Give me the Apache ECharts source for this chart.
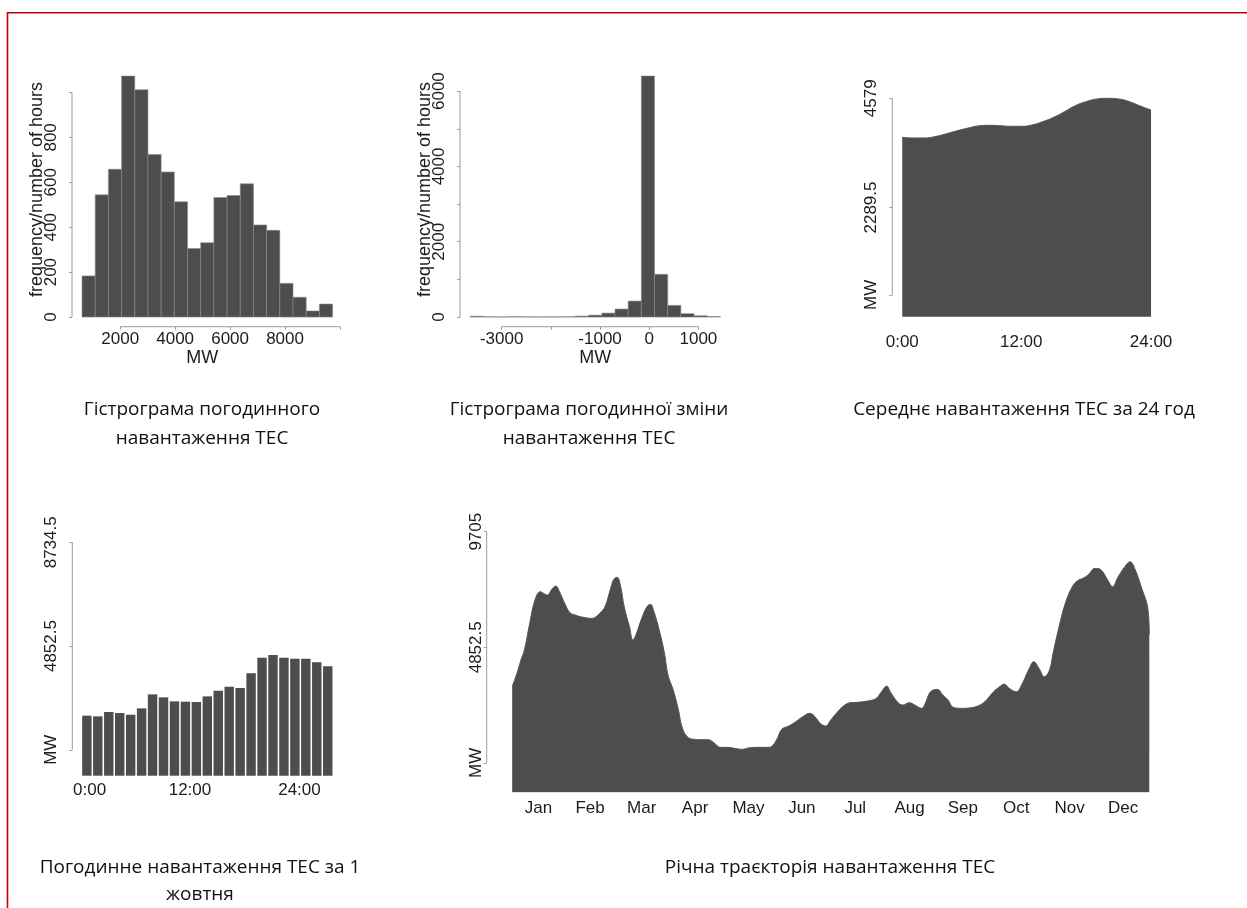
<!DOCTYPE html>
<html>
<head>
<meta charset="utf-8">
<script src="https://cdn.jsdelivr.net/npm/echarts@6/dist/echarts.min.js"></script>
<style>
  html, body { margin: 0; padding: 0; background: #ffffff; }
  #chart { width: 1247px; height: 908px; }
</style>
</head>
<body>
<div id="chart"></div>
<script>
// ---------- data ----------
// Hourly load histogram (bin edges in MW, counts in hours)
const loadBinEdges = [610, 1090, 1570, 2050, 2530, 3010, 3490, 3970, 4450, 4930,
                      5410, 5890, 6370, 6850, 7330, 7810, 8290, 8770, 9250, 9730];
const loadBinCounts = [183, 544, 658, 1073, 1012, 724, 646, 513, 305, 331,
                       532, 541, 593, 410, 386, 150, 88, 27, 58];

// Histogram of hour-to-hour load change
const changeBinEdges = [-3644, -3376, -3108, -2840, -2572, -2304, -2036, -1768, -1500, -1232,
                        -964, -696, -428, -160, 108, 376, 644, 912, 1180, 1448];
const changeBinCounts = [22, 8, 5, 12, 6, 5, 6, 8, 25, 50,
                         105, 213, 425, 6400, 1135, 310, 90, 35, 15];

// Average load by hour of day
const dayHours = [1, 2, 3, 4, 5, 6, 7, 8, 9, 10, 11, 12,
                  13, 14, 15, 16, 17, 18, 19, 20, 21, 22, 23, 24];
const avgHourlyLoad = [3761, 3747, 3747, 3775, 3831, 3894, 3950, 3999, 4013, 4006, 3992, 3992,
                       4020, 4090, 4181, 4299, 4425, 4509, 4565, 4579, 4565, 4509, 4418, 4334];

// Hourly load on 1 October
const oct1Hours = ['1', '2', '3', '4', '5', '6', '7', '8', '9', '10', '11', '12',
                   '13', '14', '15', '16', '17', '18', '19', '20', '21', '22', '23'];
const oct1Load = [2246, 2221, 2383, 2345, 2283, 2520, 3044, 2932, 2782, 2769, 2757, 2969,
                  3181, 3331, 3281, 3830, 4416, 4516, 4416, 4379, 4379, 4242, 4092];

// Yearly load trajectory (day of year, MW)
const yearDays = [1, 4, 6, 8, 11, 14, 17, 19, 21, 24, 26, 28, 31, 34, 37, 40, 43, 46, 48, 51,
                  54, 57, 59, 61, 63, 65, 68, 70, 72, 75, 78, 80, 82, 85, 88, 90, 93, 96, 98, 101,
                  105, 109, 113, 116, 120, 124, 128, 132, 137, 143, 147, 149, 152, 155, 159, 163, 167, 171, 174, 177,
                  180, 183, 187, 191, 194, 198, 205, 209, 212, 215, 217, 221, 224, 228, 231, 235, 237, 240, 244, 247,
                  250, 253, 258, 263, 267, 271, 276, 280, 282, 285, 289, 292, 296, 299, 302, 305, 308, 310, 313, 317,
                  321, 324, 327, 330, 334, 337, 341, 344, 347, 351, 354, 357, 361, 364, 365];
const yearLoad = [3200, 3829, 4319, 4739, 5857, 6837, 7186, 7116, 7046, 7326, 7424, 7186, 6697, 6305, 6207, 6137, 6095, 6067, 6095, 6277,
                  6557, 7256, 7704, 7788, 7396, 6557, 5717, 5158, 5437, 6067, 6557, 6655, 6347, 5577, 4598, 3689, 3059, 2220, 1520, 1101,
                  989, 975, 975, 863, 653, 653, 611, 569, 639, 653, 653, 681, 961, 1408, 1548, 1730, 1940, 2080, 1940, 1660,
                  1548, 1800, 2150, 2429, 2527, 2541, 2611, 2709, 2988, 3226, 2988, 2569, 2429, 2527, 2429, 2289, 2499, 2988, 3086, 2848,
                  2642, 2331, 2289, 2317, 2387, 2569, 2988, 3226, 3310, 3128, 2988, 3268, 3898, 4248, 3968, 3619, 3898, 4598, 5577, 6697,
                  7396, 7648, 7746, 7886, 8166, 8124, 7704, 7396, 7788, 8236, 8446, 8096, 7256, 6557, 5367];

// ---------- tick definitions ----------
const loadTicksX = [2000, 4000, 6000, 8000, 10000];
const loadLabelsX = [2000, 4000, 6000, 8000];
const loadTicksY = [0, 200, 400, 600, 800, 1000];
const loadLabelsY = [0, 200, 400, 600, 800];

const changeTicksX = [-3000, -2000, -1000, 0, 1000];
const changeLabelsX = [-3000, -1000, 0, 1000];
const changeTicksY = [0, 1000, 2000, 3000, 4000, 5000, 6000];
const changeLabelsY = [0, 2000, 4000, 6000];

const hourTickPos = [1, 12, 24];
const hourTickText = ['0:00', '12:00', '24:00'];

const avgTickPos = [458, 2289.5, 4579];
const avgTickText = ['MW', '2289.5', '4579'];

const oct1TickPos = [970.5, 4852.5, 8734.5];
const oct1TickText = ['MW', '4852.5', '8734.5'];

const yearTickPos = [0, 4852.5, 9705];
const yearTickText = ['MW', '4852.5', '9705'];

const monthMidDays = [16, 45.5, 75, 105.5, 136, 166.5, 197, 228, 258.5, 289, 319.5, 350];
const monthNames = ['Jan', 'Feb', 'Mar', 'Apr', 'May', 'Jun', 'Jul', 'Aug', 'Sep', 'Oct', 'Nov', 'Dec'];

// ---------- styling ----------
const FILL = '#4d4d4d';
const AXIS_COLOR = '#9c9c9c';
const TEXT_COLOR = '#1c1c1c';
const FONT = "'Liberation Sans', Arial, Helvetica, sans-serif";
const FS = 17;        // tick labels
const FS_NAME = 18;   // axis titles
const CAPTION_FONT = "19px 'Open Sans', 'Noto Sans', sans-serif";

function plain(v) { return String(v); }

function lookup(pos, text) {
  return function (v) {
    const i = pos.indexOf(v);
    return i >= 0 ? text[i] : '';
  };
}

function baseAxis(type, gridIndex, min, max) {
  return {
    type: type, gridIndex: gridIndex, min: min, max: max,
    axisLine: { show: false, onZero: false },
    splitLine: { show: false },
    axisTick: { show: false },
    axisLabel: { show: false }
  };
}

// bottom axis with R-style ticks
function xTicked(gridIndex, min, max, ticks, labels, name, namePad) {
  const a = baseAxis('value', gridIndex, min, max);
  a.axisTick = { show: true, customValues: ticks, length: 3, lineStyle: { color: AXIS_COLOR, width: 1 } };
  a.axisLabel = { show: true, customValues: labels, formatter: plain, margin: 4,
                  color: TEXT_COLOR, fontFamily: FONT, fontSize: FS };
  if (name) {
    a.name = name;
    a.nameLocation = 'middle';
    a.nameGap = 22;
    a.nameMoveOverlap = false;
    a.nameTextStyle = { color: TEXT_COLOR, fontFamily: FONT, fontSize: FS_NAME, padding: namePad || 0 };
  }
  return a;
}

// bottom axis with labels only
function xLabelsOnly(gridIndex, min, max, pos, text, margin) {
  const a = baseAxis('value', gridIndex, min, max);
  a.axisLabel = { show: true, customValues: pos, formatter: lookup(pos, text), margin: margin,
                  color: TEXT_COLOR, fontFamily: FONT, fontSize: FS };
  return a;
}

// left axis with rotated labels
function yTicked(gridIndex, min, max, ticks, labels, formatter, margin, name, namePad) {
  const a = baseAxis('value', gridIndex, min, max);
  a.axisTick = { show: true, customValues: ticks, length: 3, lineStyle: { color: AXIS_COLOR, width: 1 } };
  a.axisLabel = { show: true, customValues: labels, rotate: 90, margin: margin,
                  formatter: formatter || plain,
                  color: TEXT_COLOR, fontFamily: FONT, fontSize: FS };
  if (name) {
    a.name = name;
    a.nameLocation = 'middle';
    a.nameGap = 26;
    a.nameMoveOverlap = false;
    a.nameTextStyle = { color: TEXT_COLOR, fontFamily: FONT, fontSize: FS_NAME, padding: namePad || 0 };
  }
  return a;
}

// axis spine drawn only between the first and last tick
function spine(xi, yi, x0, y0, x1, y1) {
  return {
    type: 'custom', xAxisIndex: xi, yAxisIndex: yi, silent: true, clip: false, z: 5,
    data: [[x0, y0, x1, y1]],
    encode: { x: [0, 2], y: [1, 3] },
    renderItem: function (params, api) {
      const a = api.coord([api.value(0), api.value(1)]);
      const b = api.coord([api.value(2), api.value(3)]);
      return { type: 'line', shape: { x1: a[0], y1: a[1], x2: b[0], y2: b[1] },
               style: { stroke: AXIS_COLOR, lineWidth: 1 } };
    }
  };
}

function histogram(xi, yi, edges, counts) {
  const data = counts.map(function (c, i) { return [edges[i], edges[i + 1], c]; });
  return {
    type: 'custom', xAxisIndex: xi, yAxisIndex: yi, silent: true,
    data: data,
    encode: { x: [0, 1], y: 2 },
    renderItem: function (params, api) {
      const a = api.coord([api.value(0), api.value(2)]);
      const b = api.coord([api.value(1), 0]);
      return { type: 'rect', shape: { x: a[0], y: a[1], width: b[0] - a[0], height: b[1] - a[1] },
               style: { fill: FILL, stroke: '#8a8a8a', lineWidth: 0.6 } };
    }
  };
}

function zip(xs, ys) { return xs.map(function (x, i) { return [x, ys[i]]; }); }

const grids = [
  { left: 72, top: 66.4, width: 270.6, height: 260.3 },     // load histogram
  { left: 460, top: 66.4, width: 270.6, height: 260.3 },    // change histogram
  { left: 892.3, top: 88, width: 268.7, height: 238.7 },    // average daily profile
  { left: 72.3, top: 530, width: 270, height: 245.7 },      // 1 October (axes)
  { left: 81.4, top: 530, width: 251.8, height: 245.7 },    // 1 October (bars)
  { left: 486.7, top: 520, width: 688.1, height: 272.3 }    // yearly trajectory
].map(function (g) { return Object.assign({ containLabel: false, outerBoundsMode: 'none' }, g); });

function caption(x, y, text, lineHeight) {
  return { type: 'text', silent: true, x: x, y: y,
           style: { text: text, font: CAPTION_FONT, fill: '#111111',
                    align: 'center', verticalAlign: 'middle', lineHeight: lineHeight || 28 } };
}

const option = {
  animation: false,
  backgroundColor: '#ffffff',
  textStyle: { fontFamily: FONT },
  grid: grids,
  xAxis: [
    xTicked(0, 245, 10095, loadTicksX, loadLabelsX, 'MW', [0, 10, 0, 0]),
    xTicked(1, -3848, 1655, changeTicksX, changeLabelsX, 'MW'),
    xLabelsOnly(2, 0.08, 24.92, hourTickPos, hourTickText, 7),
    xLabelsOnly(3, -0.896, 28.696, hourTickPos, hourTickText, 6),
    Object.assign(baseAxis('category', 4), { data: oct1Hours, boundaryGap: true }),
    xLabelsOnly(5, -13.56, 379.56, monthMidDays, monthNames, 8)
  ],
  yAxis: [
    yTicked(0, -43, 1116, loadTicksY, loadLabelsY, null, 12, 'frequency/number of hours', [0, 0, 0, 14]),
    yTicked(1, -256, 6656, changeTicksY, changeLabelsY, null, 12, 'frequency/number of hours', [0, 0, 0, 14]),
    yTicked(2, -210, 4795, avgTickPos, avgTickPos, lookup(avgTickPos, avgTickText), 12),
    yTicked(3, 0, 9195, oct1TickPos, oct1TickPos, lookup(oct1TickPos, oct1TickText), 12),
    baseAxis('value', 4, 0, 9195),
    yTicked(5, -1234, 10196, yearTickPos, yearTickPos, lookup(yearTickPos, yearTickText), 2)
  ],
  series: [
    histogram(0, 0, loadBinEdges, loadBinCounts),
    histogram(1, 1, changeBinEdges, changeBinCounts),
    {
      type: 'line', xAxisIndex: 2, yAxisIndex: 2, silent: true,
      data: zip(dayHours, avgHourlyLoad),
      smooth: 0.5, symbol: 'none',
      lineStyle: { color: '#555555', width: 1 },
      areaStyle: { color: FILL, opacity: 1, origin: 'auto' }
    },
    {
      type: 'bar', xAxisIndex: 4, yAxisIndex: 4, silent: true,
      data: oct1Load, barCategoryGap: '14%',
      itemStyle: { color: FILL }
    },
    {
      type: 'line', xAxisIndex: 5, yAxisIndex: 5, silent: true,
      data: zip(yearDays, yearLoad),
      smooth: 0.4, symbol: 'none',
      lineStyle: { color: '#555555', width: 1 },
      areaStyle: { color: FILL, opacity: 1, origin: 'start' }
    },
    // axis spines
    spine(0, 0, loadTicksX[0], -43, loadTicksX[loadTicksX.length - 1], -43),
    spine(0, 0, 245, loadTicksY[0], 245, loadTicksY[loadTicksY.length - 1]),
    spine(1, 1, changeTicksX[0], -256, changeTicksX[changeTicksX.length - 1], -256),
    spine(1, 1, -3848, changeTicksY[0], -3848, changeTicksY[changeTicksY.length - 1]),
    spine(2, 2, 0.08, avgTickPos[0], 0.08, avgTickPos[avgTickPos.length - 1]),
    spine(3, 3, -0.896, oct1TickPos[0], -0.896, oct1TickPos[oct1TickPos.length - 1]),
    spine(5, 5, -13.56, yearTickPos[0], -13.56, yearTickPos[yearTickPos.length - 1])
  ],
  graphic: [
    { type: 'polyline', silent: true,
      shape: { points: [[7.5, 908], [7.5, 12.7], [1247, 12.7]] },
      style: { stroke: '#c00000', lineWidth: 1.6, fill: null } },
    caption(202, 424, 'Гістрограма погодинного\nнавантаження ТЕС', 28.5),
    caption(589, 424, 'Гістрограма погодинної зміни\nнавантаження ТЕС', 28.5),
    caption(1024, 410, 'Середнє навантаження ТЕС за 24 год'),
    caption(200, 881, 'Погодинне навантаження ТЕС за 1\nжовтня', 27),
    caption(830, 868, 'Річна траєкторія навантаження ТЕС')
  ]
};

const chart = echarts.init(document.getElementById('chart'), null, { renderer: 'canvas' });
chart.setOption(option);
</script>
</body>
</html>
